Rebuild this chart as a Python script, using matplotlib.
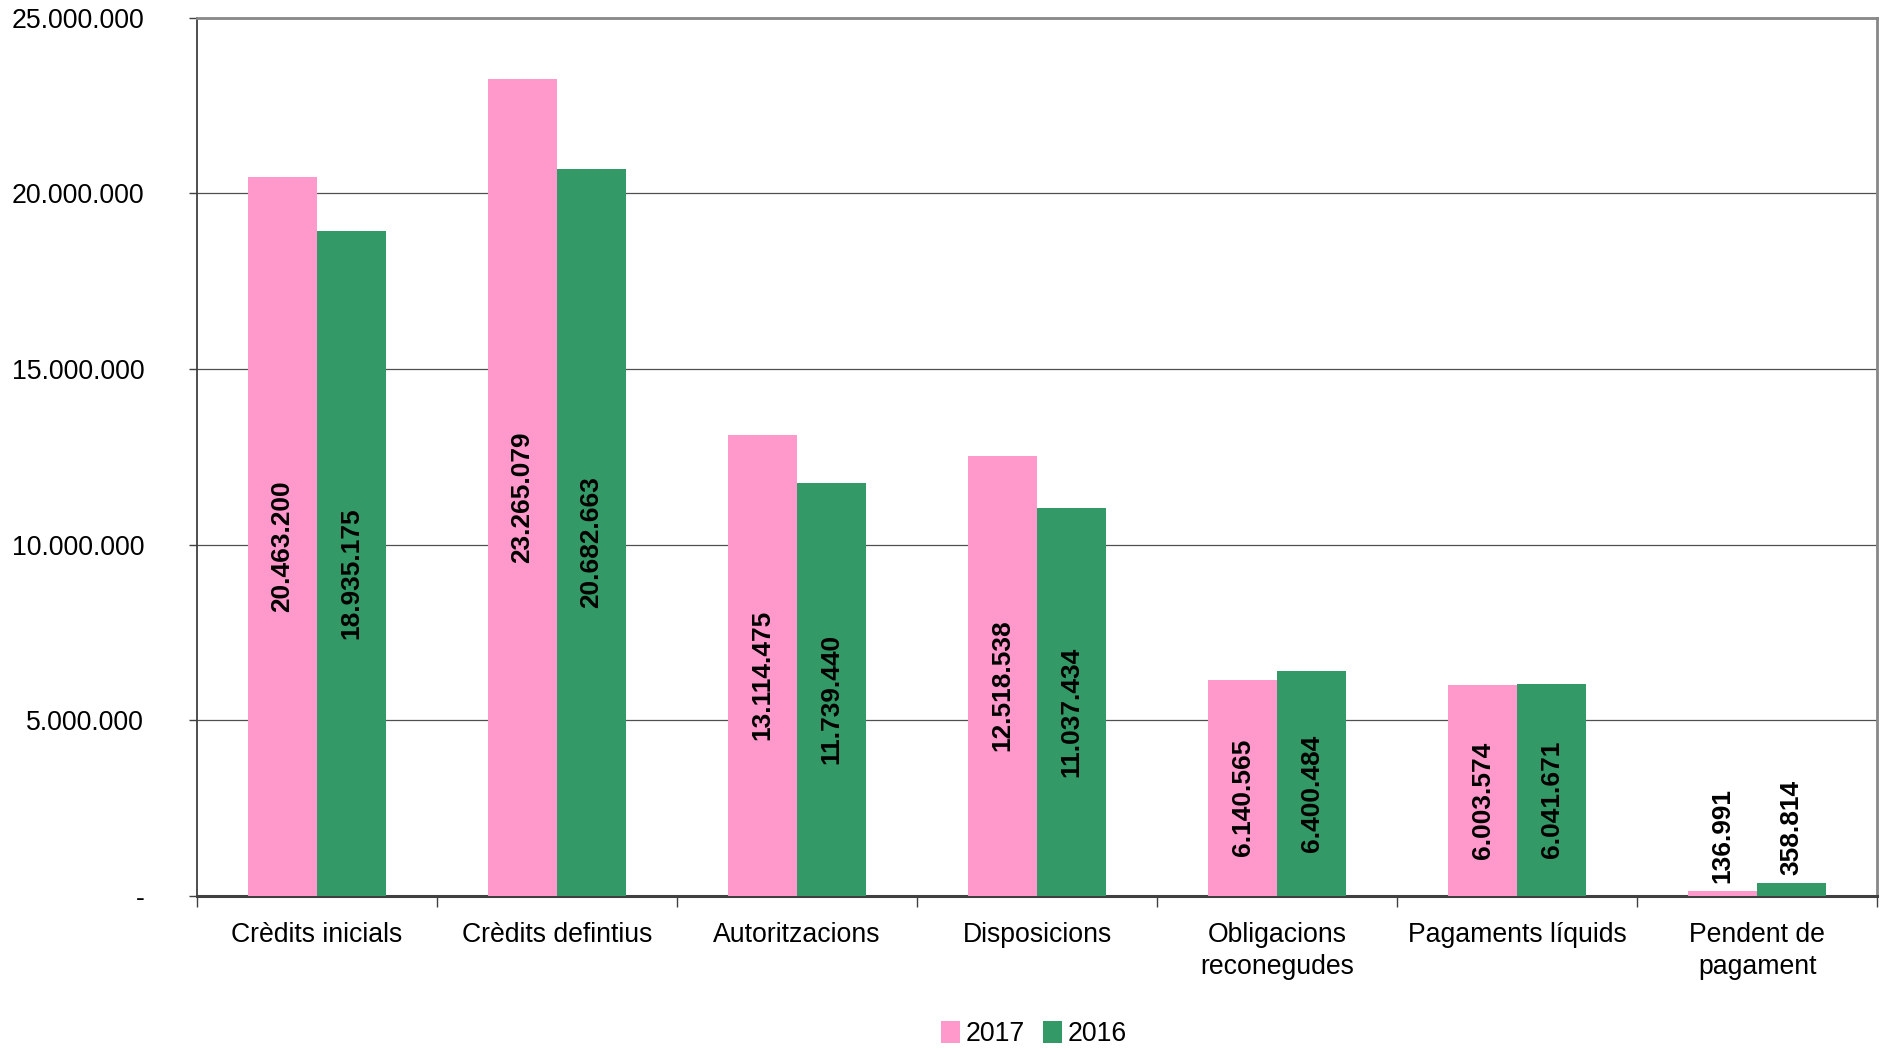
import matplotlib
matplotlib.use("Agg")
import matplotlib.pyplot as plt
import numpy as np
from matplotlib.patches import Patch
from matplotlib.ticker import FixedLocator, FuncFormatter

plt.rcParams['font.family'] = ['Liberation Sans', 'DejaVu Sans']

categories = ["Crèdits inicials", "Crèdits defintius", "Autoritzacions", "Disposicions",
              "Obligacions\nreconegudes", "Pagaments líquids", "Pendent de\npagament"]
series_names = ["2017", "2016"]
values_2017 = [20463200, 23265079, 13114475, 12518538, 6140565, 6003574, 136991]
values_2016 = [18935175, 20682663, 11739440, 11037434, 6400484, 6041671, 358814]
colors = ["#FF99CC", "#339966"]

def fmt(v):
    return f"{int(round(v)):,}".replace(",", ".")

fig = plt.figure(figsize=(18.83, 10.5), dpi=100)
ax = fig.add_axes([0.1046, 0.147, 0.997 - 0.1046, 0.983 - 0.147])

x = np.arange(len(categories))
w = 0.2875
FS = 19.2
LFS = 18.9
for i, (vals, col) in enumerate(zip([values_2017, values_2016], colors)):
    pos = x + (i - 0.5) * w
    ax.bar(pos, vals, width=w, color=col, zorder=3, label=series_names[i])
    for px, v in zip(pos, vals):
        if v < 4_000_000:
            ax.annotate(fmt(v), (px, v), xytext=(0, 6), textcoords="offset points",
                        rotation=90, ha="center", va="bottom", fontsize=LFS,
                        fontweight="bold", color="black", zorder=4)
        else:
            ax.annotate(fmt(v), (px, v / 2), xytext=(0, -7), textcoords="offset points",
                        rotation=90, ha="center", va="center", fontsize=LFS,
                        fontweight="bold", color="black", zorder=4)

ax.set_xlim(-0.5, len(categories) - 0.5)
ax.set_ylim(0, 25_000_000)

yt = [0, 5e6, 10e6, 15e6, 20e6, 25e6]
ax.set_yticks(yt)
ax.yaxis.set_major_formatter(FuncFormatter(lambda v, p: "-" if v == 0 else fmt(v)))
ax.tick_params(axis="y", labelsize=FS, length=6, width=1, color="#404040", pad=32)
ax.yaxis.grid(True, color="#505050", linewidth=0.9, zorder=0)
ax.set_axisbelow(True)

ax.set_xticks(x)
ax.set_xticklabels(categories, fontsize=FS, linespacing=1.3)
ax.tick_params(axis="x", which="major", length=0, pad=19)
ax.xaxis.set_minor_locator(FixedLocator(np.arange(len(categories) + 1) - 0.5))
ax.tick_params(axis="x", which="minor", length=8, width=1, color="#404040")

for s in ["top", "right"]:
    ax.spines[s].set_color("#888888")
    ax.spines[s].set_linewidth(2)
ax.spines["left"].set_color("#404040")
ax.spines["left"].set_linewidth(1.3)
ax.spines["bottom"].set_color("#404040")
ax.spines["bottom"].set_linewidth(2.2)

handles = [Patch(facecolor=c, edgecolor="none") for c in colors]
fig.legend(handles, series_names, loc="center", bbox_to_anchor=(0.549, 0.015),
           ncol=2, frameon=False, fontsize=FS, handlelength=0.7, handleheight=0.9,
           handletextpad=0.2, columnspacing=0.7)

fig.savefig("out.png", dpi=100)
